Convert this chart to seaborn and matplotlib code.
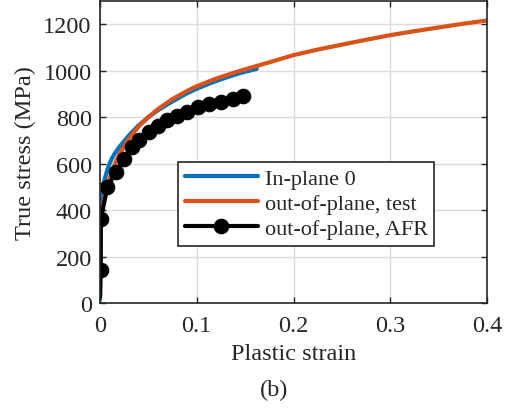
import matplotlib
matplotlib.use("Agg")
import matplotlib.pyplot as plt
import seaborn as sns
import pandas as pd

# In-plane 0
inplane_strain = [0.0, 0.0005, 0.001, 0.002, 0.003, 0.005, 0.007, 0.009, 0.012, 0.015, 0.02, 0.03,
                  0.04, 0.05, 0.06, 0.075, 0.09, 0.1, 0.115, 0.13, 0.145, 0.162]
inplane_stress = [15, 200, 320, 450, 495, 535, 565, 590, 620, 642, 672, 722,
                  765, 800, 830, 868, 903, 922, 948, 970, 990, 1008]

# out-of-plane, test
oop_strain = [0.0, 0.001, 0.002, 0.003, 0.005, 0.008, 0.012, 0.015, 0.02, 0.03, 0.04, 0.05,
              0.06, 0.075, 0.09, 0.1, 0.12, 0.145, 0.175, 0.2, 0.225, 0.25, 0.275,
              0.3, 0.325, 0.35, 0.375, 0.4]
oop_stress = [250, 340, 390, 420, 462, 515, 560, 595, 640, 708, 760, 800,
              835, 878, 913, 933, 966, 1000, 1036, 1067, 1091, 1112, 1133,
              1153, 1170, 1186, 1202, 1216]

# out-of-plane, AFR
afr_strain = [0.0, 0.0007, 0.0007, 0.0076, 0.0165, 0.0252, 0.0328, 0.0407, 0.051, 0.0603,
              0.0696, 0.08, 0.0903, 0.1017, 0.113, 0.1248, 0.137, 0.148]
afr_stress = [25, 143, 360, 498, 564, 620, 671, 703, 734, 763,
              786, 807, 824, 843, 856, 867, 879, 889]

x_ticks = [0, 0.1, 0.2, 0.3, 0.4]
x_ticklabels = ["0", "0.1", "0.2", "0.3", "0.4"]
y_ticks = [0, 200, 400, 600, 800, 1000, 1200]

sns.set_theme(style="whitegrid")
plt.rcParams["font.family"] = ["Liberation Serif", "DejaVu Serif"]

fig = plt.figure(figsize=(5.09, 4.10), dpi=100)
W, H = 509, 410
ax = fig.add_axes([100 / W, 1 - 304 / H, (487 - 100) / W, (304 - 2) / H])

df_in = pd.DataFrame({"x": inplane_strain, "y": inplane_stress})
df_oop = pd.DataFrame({"x": oop_strain, "y": oop_stress})
df_afr = pd.DataFrame({"x": afr_strain, "y": afr_stress})

sns.lineplot(data=df_in, x="x", y="y", ax=ax, color="#0072BD", lw=3, sort=False,
             label="In-plane 0", estimator=None)
sns.lineplot(data=df_oop, x="x", y="y", ax=ax, color="#D95319", lw=3, sort=False,
             label="out-of-plane, test", estimator=None)
sns.lineplot(data=df_afr, x="x", y="y", ax=ax, color="black", lw=3, sort=False,
             marker="o", markersize=10.5, markevery=list(range(1, len(afr_strain))),
             markeredgecolor="black", label="out-of-plane, AFR", estimator=None)

ax.set_xlim(0, 0.4)
ax.set_ylim(0, 1300)
ax.set_xticks(x_ticks)
ax.set_xticklabels(x_ticklabels)
ax.set_yticks(y_ticks)
ax.set_facecolor("white")
ax.grid(True, color="#dcdcdc", lw=1)
for s in ax.spines.values():
    s.set_color("#262626")
    s.set_linewidth(1.2)
    s.set_visible(True)
ax.tick_params(direction="in", length=4, width=1, colors="#262626", labelsize=17.5,
               top=True, right=True, bottom=True, left=True)
ax.tick_params(axis="x", pad=9)
ax.tick_params(axis="y", pad=6)
ax.set_xlabel("Plastic strain", fontsize=17.5, color="#262626", labelpad=5)
ax.set_ylabel("True stress (MPa)", fontsize=17.5, color="#262626", labelpad=5)

leg = ax.legend(loc="upper left", bbox_to_anchor=((178 - 100) / 387, 1 - (163 - 2) / 302),
                frameon=True, fancybox=False, fontsize=16, handlelength=3.3,
                handletextpad=0.3, borderpad=0.3, labelspacing=0.2, borderaxespad=0)
leg.get_frame().set_edgecolor("#262626")
leg.get_frame().set_linewidth(1.2)
leg.get_frame().set_alpha(1)

fig.text(274 / W, 1 - 390 / H, "(b)", ha="center", va="center", fontsize=17.5, color="#262626")

fig.savefig("out.png", dpi=100, facecolor="white")
